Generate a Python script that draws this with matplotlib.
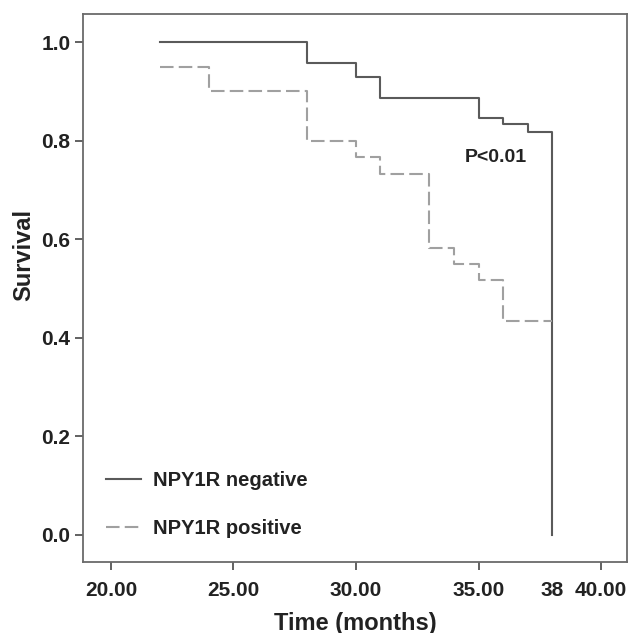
import matplotlib.pyplot as plt

plt.rcParams['font.family'] = ['Liberation Sans', 'DejaVu Sans']
plt.rcParams['font.weight'] = 'bold'

# Kaplan-Meier steps
t_neg = [22, 28, 30, 31, 35, 36, 37, 38]
s_neg = [1.0, 0.958, 0.929, 0.886, 0.845, 0.833, 0.818, 0.0]

t_pos = [22, 24, 28, 30, 31, 33, 34, 35, 36, 38]
s_pos = [0.95, 0.90, 0.80, 0.767, 0.733, 0.583, 0.55, 0.517, 0.433, 0.433]

xticks = [20, 25, 30, 35, 40]
xtick_labels = ['20.00', '25.00', '30.00', '35.00', '40.00']
yticks = [0.0, 0.2, 0.4, 0.6, 0.8, 1.0]
p_text = 'P<0.01'

fig = plt.figure(figsize=(6.35, 6.33), dpi=100)
ax = fig.add_axes([0.1307, 0.1122, 0.8567, 0.8657])

ax.step(t_neg, s_neg, where='post', color='#5a5a5a', lw=1.5, label='NPY1R negative')
ax.step(t_pos, s_pos, where='post', color='#a0a0a0', lw=1.5, dashes=(6.5, 2.5),
        label='NPY1R positive')

ax.set_xlim(18.86, 41.06)
ax.set_ylim(-0.055, 1.057)

ax.set_xticks(xticks)
ax.set_xticklabels(xtick_labels)
ax.set_xticks([38], minor=True)
ax.set_xticklabels(['38'], minor=True)
ax.set_yticks(yticks)
ax.set_yticklabels(['%.1f' % v for v in yticks])

ax.tick_params(axis='both', which='major', direction='out', length=6, width=1.3,
               color='#555555', labelsize=15, labelcolor='#222222')
ax.tick_params(axis='x', which='major', pad=8)
ax.tick_params(axis='y', which='major', pad=3)
ax.tick_params(axis='x', which='minor', length=0, labelsize=15, labelcolor='#222222', pad=14)
for lab in ax.get_xticklabels(which='both') + ax.get_yticklabels():
    lab.set_fontweight('bold')

for sp in ax.spines.values():
    sp.set_color('#6a6a6a')
    sp.set_linewidth(1.3)

ax.set_xlabel('Time (months)', fontsize=17, fontweight='bold', color='#222222', labelpad=8)
ax.set_ylabel('Survival', fontsize=17, fontweight='bold', color='#222222')
ax.yaxis.set_label_coords(-0.088, 0.56)

ax.text(35.7, 0.765, p_text, fontsize=14, fontweight='bold', color='#222222',
        ha='center', va='center')

leg = ax.legend(loc='lower left', bbox_to_anchor=(0.009, 0.011), frameon=False,
                prop={'size': 14.5, 'weight': 'bold'}, handlelength=1.75,
                handletextpad=0.6, labelspacing=1.45)
for txt in leg.get_texts():
    txt.set_color('#222222')

fig.savefig('out.png', dpi=100, facecolor='white')
